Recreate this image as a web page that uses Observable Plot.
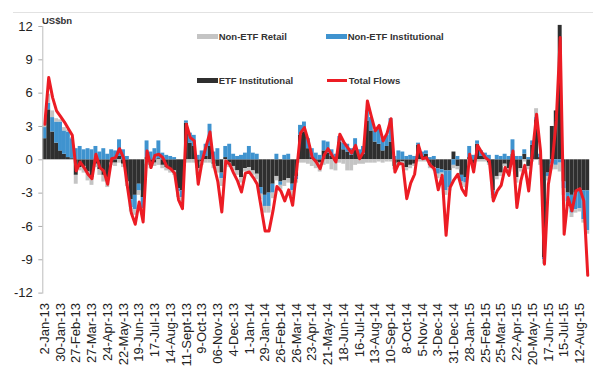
<!DOCTYPE html>
<html><head><meta charset="utf-8">
<script src="https://cdn.jsdelivr.net/npm/d3@7"></script>
<script src="https://cdn.jsdelivr.net/npm/@observablehq/plot@0.6"></script>
<style>
body{margin:0;background:#fff;font-family:"Liberation Sans",Arial,sans-serif;}
#wrap{position:relative;width:600px;height:383px;overflow:hidden;}
#wrap svg{position:absolute;left:0;top:0;}
.topline{position:absolute;left:13px;top:12px;width:580px;height:1px;background:#e2e2e2;}
.unit{position:absolute;left:42px;top:15px;font-size:9.5px;font-weight:bold;color:#333;}
.leg{position:absolute;font-size:9.5px;font-weight:bold;color:#333;display:flex;align-items:center;white-space:nowrap;height:10px;}
.sw{display:inline-block;width:21px;height:5px;margin-right:1px;}
.ln{display:inline-block;width:20px;height:2.5px;margin-right:2px;}
</style></head><body><div id="wrap"></div>
<script>
// Tick labels every 4 weeks, starting 2-Jan-13
const tickLabels = ["2-Jan-13","30-Jan-13","27-Feb-13","27-Mar-13","24-Apr-13","22-May-13","19-Jun-13","17-Jul-13","14-Aug-13","11-Sept-13","9-Oct-13","06-Nov-13","4-Dec-13","1-Jan-14","29-Jan-14","26-Feb-14","26-Mar-14","23-Apr-14","21-May-14","18-Jun-14","16-Jul-14","13-Aug-14","10-Sep-14","8-Oct-14","5-Nov-14","3-Dec-14","31-Dec-14","28-Jan-15","25-Feb-15","25-Mar-15","22-Apr-15","20-May-15","17-Jun-15","15-Jul-15","12-Aug-15"];
const yTicks = [-12,-9,-6,-3,0,3,6,9,12];
const seriesNames = ["ETF Institutional","Non-ETF Institutional","Non-ETF Retail"];

// Weekly flows, US$bn
const totalFlows = [3.2,7.4,5.6,4.4,3.9,3.4,2.8,2.2,-1.0,-0.2,-0.7,-1.3,-1.7,0.5,-0.7,-1.0,-2.2,0.1,0.2,1.0,0.2,-2.4,-4.8,-5.8,-3.8,-5.6,0.8,-0.7,0.4,0.5,0.2,-0.6,-0.8,-1.2,-3.6,-4.4,3.2,2.0,1.7,-2.2,-0.1,1.2,2.5,-0.5,-2.0,-4.7,-0.1,-0.4,-1.2,-1.9,-2.9,-1.2,-1.1,-1.6,-2.2,-4.3,-6.4,-6.4,-4.6,-2.4,-2.8,-3.7,-2.7,-4.1,-1.0,2.4,2.9,1.7,0.2,-0.2,-0.8,0.4,1.0,0.4,-0.2,2.3,1.6,1.1,0.6,1.3,0.1,0.7,5.3,3.9,2.6,3.1,1.7,2.4,3.7,-1.1,-0.3,-0.4,-3.5,-2.1,-1.3,1.3,0.1,0.2,-0.5,-0.8,-2.7,-1.4,-6.8,-2.5,-1.8,-1.3,-2.6,-3.2,0.5,-1.1,1.3,0.7,0.2,-0.1,-3.7,-2.8,-2.3,-0.7,-1.4,0.8,-4.3,-1.9,-0.5,-2.8,0.8,4.1,0.8,-9.4,-2.2,-0.1,3.5,11.0,-6.7,-3.4,-4.6,-2.8,-2.6,-3.7,-10.4];
const etfInstitutional = [1.9,4.5,2.5,1.5,0.8,0.5,0.2,0.1,-1.4,-0.7,-0.6,-1.1,-1.6,-0.4,-0.9,-1.4,-1.7,-0.3,-0.3,0.3,-0.4,-2.0,-3.6,-3.2,-2.2,-3.4,0.2,-0.5,-0.3,0.1,-0.5,-0.7,-0.9,-1.0,-2.6,-2.8,3.3,1.5,1.2,-0.8,-0.2,0.3,1.2,-0.4,-0.6,-1.2,0.2,-0.3,-0.6,-1.0,-1.6,-0.8,-0.7,-1.0,-1.3,-2.5,-3.2,-3.0,-2.2,-1.5,-2.0,-1.9,-1.7,-2.2,-1.5,2.2,2.5,1.0,0.2,-0.2,-0.3,0.8,0.6,0.3,-0.2,1.6,0.9,0.7,0.4,0.9,0.3,0.5,3.5,2.6,1.6,1.4,0.8,1.2,1.6,-0.6,-0.3,-0.2,-0.7,-0.5,-0.4,1.3,0.3,0.5,-0.5,-0.7,-0.8,-0.9,-1.0,-1.0,0.7,-0.6,-1.4,-1.6,0.2,-0.4,1.4,0.3,0.2,-0.3,-2.8,-1.5,-1.2,-0.4,-0.8,0.5,-1.6,-0.8,0.5,-0.6,1.3,3.6,0.2,-8.8,-1.2,3.0,4.4,12.1,-2.0,-3.0,-3.2,-3.0,-2.6,-2.8,-2.8];
const nonEtfInstitutional = [1.0,0.6,1.3,1.9,2.6,2.1,2.3,1.8,1.0,1.2,0.9,1.0,0.9,1.2,0.7,1.0,0.5,0.9,0.8,1.5,0.9,0.3,-0.7,-1.3,-0.6,-1.0,1.5,0.7,1.0,1.6,0.6,0.4,0.3,0.2,-0.3,-0.6,0.2,0.9,1.0,0.4,0.8,1.1,2.0,0.7,1.0,-0.5,1.0,1.4,0.5,0.3,0.4,0.6,1.2,0.6,0.5,-0.6,-1.0,-1.2,-0.8,0.5,-0.3,0.4,0.5,-0.6,-0.3,0.9,0.9,0.9,0.8,0.6,0.4,0.9,1.0,0.6,0.5,0.5,0.6,0.7,0.6,1.0,0.6,0.7,0.9,1.2,1.0,1.4,1.0,1.0,2.1,0.3,0.8,0.7,0.3,0.4,0.3,0.2,0.4,0.3,0.2,0.3,-0.5,-0.3,-1.8,-1.5,-0.5,0.3,-0.6,-0.5,1.0,0.4,0.3,0.5,0.4,0.4,-0.4,0.4,0.3,0.5,0.3,1.3,0.3,0.3,0.4,0.2,0.4,0.2,0.3,-0.2,-0.3,-0.4,-0.5,-0.3,-0.6,-0.8,-1.6,-1.5,-1.8,-2.6,-3.6];
const nonEtfRetail = [0.2,0.8,0.6,0.3,0.2,0.3,0.2,0.1,-0.8,-0.3,-0.6,-0.8,-0.7,-0.3,-0.5,-0.6,-0.8,-0.2,-0.3,-0.3,-0.3,-0.4,-0.4,-0.5,-0.4,-0.6,-0.4,-0.3,-0.3,-0.5,-0.3,-0.3,-0.3,-0.4,-0.5,-0.6,-0.3,-0.3,-0.3,-0.6,-0.3,-0.3,-0.3,-0.4,-0.6,-0.7,-0.4,-0.4,-0.4,-0.4,-0.5,-0.3,-0.4,-0.4,-0.5,-0.5,-0.6,-0.6,-0.5,-0.4,-0.4,-0.5,-0.4,-0.5,-0.3,-0.3,-0.3,-0.4,-0.6,-0.6,-0.8,-0.5,-0.4,-0.9,-0.8,-0.3,-0.4,-1.0,-1.0,-0.5,-0.4,-0.4,-0.3,-0.3,-0.3,-0.2,-0.3,-0.2,-0.2,-0.3,-0.3,-0.3,-0.3,-0.3,-0.2,-0.2,-0.2,-0.2,-0.3,-0.3,-0.4,-0.3,-0.4,-0.3,-0.3,-0.3,-0.3,-0.4,-0.3,-0.3,-0.2,-0.2,-0.2,-0.2,-0.3,-0.3,-0.3,-0.2,-0.3,-0.2,-0.5,-0.3,-0.2,-0.3,-0.2,0.8,-0.5,-0.4,-0.4,-0.5,-0.4,-0.8,-0.6,-0.4,-0.4,-0.3,-0.3,-0.3,-0.3];

const colors = {dark:"#2f2f2f", blue:"#3f93cf", gray:"#c4c4c4", red:"#ec1c24"};

const comps = [etfInstitutional, nonEtfInstitutional, nonEtfRetail];
const bars = [];
seriesNames.forEach((s,k) => comps[k].forEach((v,i) => bars.push({week:i, series:s, value:v})));
const lineData = totalFlows.map((v,i) => ({week:i, value:v}));
const tickWeeks = tickLabels.map((_,k) => k*4);

const stacked = Plot.stackY({x:"week", y:"value", z:"series", fill:"series"});
const {x:_sx, y:_sy, ...stackRest} = stacked;

const chart = Plot.plot({
  width:600, height:383,
  marginLeft:42.3, marginRight:10.8, marginTop:26, marginBottom:90.4,
  style:{fontFamily:"'Liberation Sans', Arial, sans-serif", background:"transparent", overflow:"visible"},
  x:{domain:[-0.5,138.5], label:null},
  y:{domain:[-12,12], label:null},
  color:{domain:seriesNames, range:[colors.dark, colors.blue, colors.gray]},
  marks:[
    Plot.rect(bars, {...stackRest, x1:d=>d.week-0.5, x2:d=>d.week+0.5}),
    Plot.line(lineData, {x:"week", y:"value", stroke:colors.red, strokeWidth:3, strokeLinejoin:"round"}),
    Plot.frame({anchor:"left", stroke:"#bdbdbd"}),
    Plot.axisY({ticks:yTicks, tickFormat:d=>String(d), tickSize:4, tickPadding:6, fontSize:13, stroke:"#aaa", color:"#222", label:null}),
    Plot.axisX({ticks:tickWeeks, tickFormat:w=>tickLabels[w/4], tickRotate:-90, tickSize:0, tickPadding:10, fontSize:13, color:"#222", label:null})
  ]
});
const wrap = document.getElementById("wrap");
wrap.appendChild(chart);
wrap.insertAdjacentHTML("beforeend", `
<div class="topline"></div>
<div class="unit">US$bn</div>
<div class="leg" style="left:196.7px;top:31px"><span class="sw" style="background:${colors.gray}"></span>Non-ETF Retail</div>
<div class="leg" style="left:325.7px;top:31px"><span class="sw" style="background:${colors.blue}"></span>Non-ETF Institutional</div>
<div class="leg" style="left:196.7px;top:75.5px"><span class="sw" style="background:${colors.dark}"></span>ETF Institutional</div>
<div class="leg" style="left:326.7px;top:75.5px"><span class="ln" style="background:${colors.red}"></span>Total Flows</div>
`);
</script></body></html>
